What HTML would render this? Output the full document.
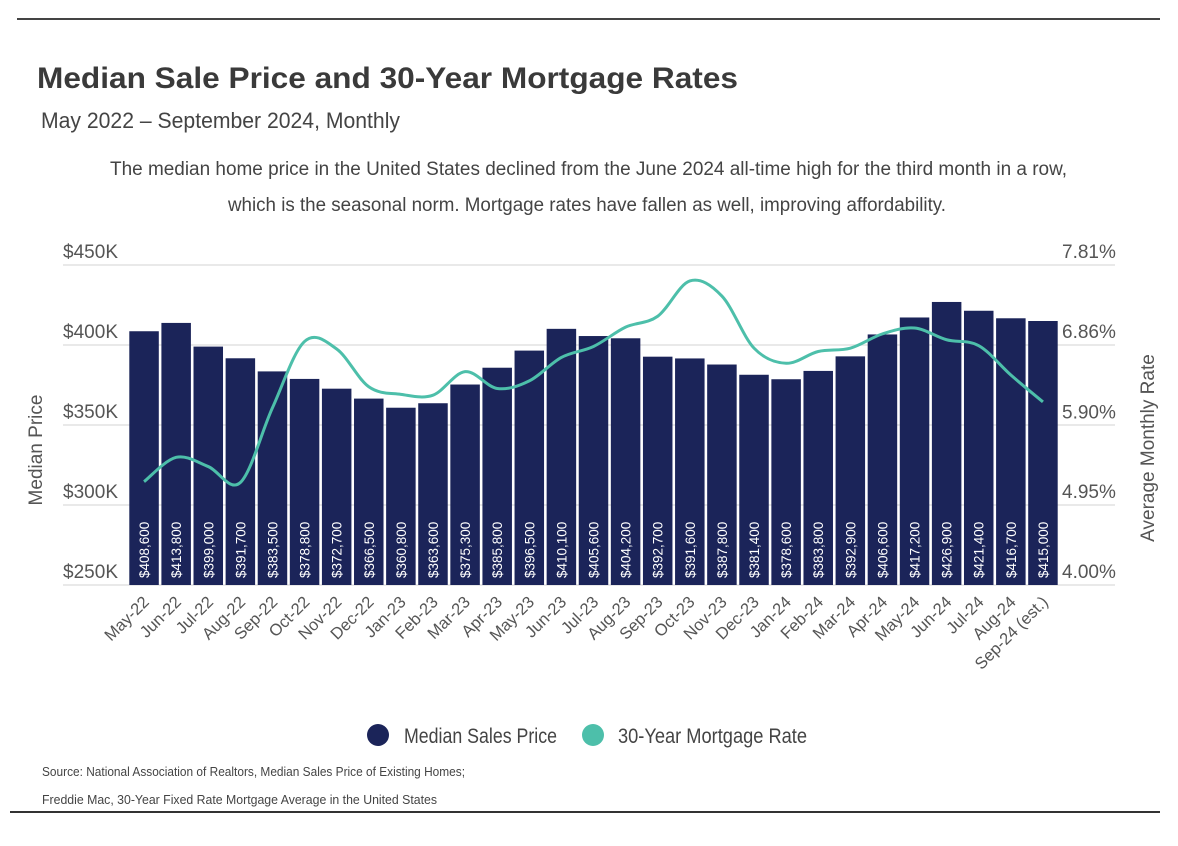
<!DOCTYPE html>
<html><head><meta charset="utf-8"><style>
body{margin:0;background:#fff;}
svg{display:block;font-family:"Liberation Sans Narrow","Liberation Sans",sans-serif;}
</style></head><body>
<svg id="c" width="1178" height="846" viewBox="0 0 1178 846">
<line x1="17" y1="19" x2="1160" y2="19" stroke="#444" stroke-width="2"/>
<line x1="10" y1="812" x2="1160" y2="812" stroke="#333" stroke-width="2"/>
<text x="37" y="88" font-size="30" font-weight="bold" fill="#3a3a3a" textLength="701" lengthAdjust="spacingAndGlyphs">Median Sale Price and 30-Year Mortgage Rates</text>
<text x="41" y="128" font-size="22" fill="#444" textLength="359" lengthAdjust="spacingAndGlyphs">May 2022 – September 2024, Monthly</text>
<text x="110" y="175" font-size="19" fill="#444" textLength="957" lengthAdjust="spacingAndGlyphs">The median home price in the United States declined from the June 2024 all-time high for the third month in a row,</text>
<text x="228" y="211" font-size="19" fill="#444" textLength="718" lengthAdjust="spacingAndGlyphs">which is the seasonal norm. Mortgage rates have fallen as well, improving affordability.</text>
<g id="grid"></g><g id="bars"></g><g id="line"></g><g id="axes"></g>
<text transform="translate(42,450) rotate(-90)" text-anchor="middle" font-size="19" fill="#555">Median Price</text>
<text transform="translate(1154,448) rotate(-90)" text-anchor="middle" font-size="19" fill="#555">Average Monthly Rate</text>
<g>
<circle cx="378" cy="735" r="11" fill="#1b2459"/>
<text x="404" y="743" font-size="21" fill="#444" textLength="153" lengthAdjust="spacingAndGlyphs">Median Sales Price</text>
<circle cx="593" cy="735" r="11" fill="#4dbfaa"/>
<text x="618" y="743" font-size="21" fill="#444" textLength="189" lengthAdjust="spacingAndGlyphs">30-Year Mortgage Rate</text>
</g>
<text x="42" y="776" font-size="13" fill="#444" textLength="423" lengthAdjust="spacingAndGlyphs">Source: National Association of Realtors, Median Sales Price of Existing Homes;</text>
<text x="42" y="804" font-size="13" fill="#444" textLength="395" lengthAdjust="spacingAndGlyphs">Freddie Mac, 30-Year Fixed Rate Mortgage Average in the United States</text>
</svg>
<script>
const categories=["May-22","Jun-22","Jul-22","Aug-22","Sep-22","Oct-22","Nov-22","Dec-22","Jan-23","Feb-23","Mar-23","Apr-23","May-23","Jun-23","Jul-23","Aug-23","Sep-23","Oct-23","Nov-23","Dec-23","Jan-24","Feb-24","Mar-24","Apr-24","May-24","Jun-24","Jul-24","Aug-24","Sep-24 (est.)"];
const prices=[408600,413800,399000,391700,383500,378800,372700,366500,360800,363600,375300,385800,396500,410100,405600,404200,392700,391600,387800,381400,378600,383800,392900,406600,417200,426900,421400,416700,415000];
const rates=[5.23,5.52,5.41,5.22,6.11,6.90,6.81,6.36,6.27,6.26,6.54,6.34,6.43,6.71,6.84,7.07,7.20,7.62,7.44,6.82,6.64,6.78,6.82,6.99,7.06,6.92,6.85,6.50,6.18];
const leftTicks=[250000,300000,350000,400000,450000];
const leftTickLabels=["$250K","$300K","$350K","$400K","$450K"];
const rightTicks=[4.00,4.95,5.90,6.86,7.81];
const rightTickLabels=["4.00%","4.95%","5.90%","6.86%","7.81%"];
const NS="http://www.w3.org/2000/svg";
const top_=265,bot=585,x0=128,x1=1059;
const yL=v=>bot-(v-250000)/200000*(bot-top_);
const yR=v=>bot-(v-4.00)/3.81*(bot-top_);
const step=(x1-x0)/categories.length;
const xC=i=>x0+step*(i+0.5);
function mk(tag,attrs,parent){const e=document.createElementNS(NS,tag);for(const k in attrs)e.setAttribute(k,attrs[k]);document.getElementById(parent).appendChild(e);return e;}
leftTicks.forEach((t,i)=>{
 const y=yL(t);
 const g=mk("line",{x1:63,x2:1115,y1:y,y2:y,stroke:"#e2e2e2","stroke-width":1.5},"grid");
 
 
 const tl=mk("text",{x:118,y:y-7,"text-anchor":"end","font-size":19,fill:"#555"},"axes");
 tl.textContent=leftTickLabels[i];
 
 
});
rightTicks.forEach((t,i)=>{
 const tr=mk("text",{x:1062,y:yR(t)-7,"font-size":19,fill:"#555"},"axes");
 tr.textContent=rightTickLabels[i];
 
 
});
const bw=step-2.6;
prices.forEach((p,i)=>{
 const cx=xC(i),y=yL(p);
 const r=mk("rect",{x:cx-bw/2,y:y,width:bw,height:bot-y,fill:"#1b2459"},"bars");
 
 
 const v=mk("text",{transform:`translate(${cx+5},${bot-7}) rotate(-90)`,"font-size":13.5,fill:"#fff"},"bars");
 v.textContent="$"+p.toLocaleString("en-US");
 
 
 const xl=mk("text",{transform:`translate(${cx+6},${bot+18}) rotate(-45)`,"text-anchor":"end","font-size":16.5,fill:"#555"},"axes");
 xl.textContent=categories[i];
 
 
});
const pts=rates.map((r,i)=>[xC(i),yR(r)]);
let d="M"+pts[0][0]+","+pts[0][1];
for(let i=0;i<pts.length-1;i++){
 const p0=pts[Math.max(0,i-1)],p1=pts[i],p2=pts[i+1],p3=pts[Math.min(pts.length-1,i+2)];
 const t=1/6;
 d+=` C${p1[0]+(p2[0]-p0[0])*t},${p1[1]+(p2[1]-p0[1])*t} ${p2[0]-(p3[0]-p1[0])*t},${p2[1]-(p3[1]-p1[1])*t} ${p2[0]},${p2[1]}`;
}
const ln=mk("path",{d:d,fill:"none",stroke:"#4dbfaa","stroke-width":3,"stroke-linejoin":"round"},"line");


</script>
</body></html>
